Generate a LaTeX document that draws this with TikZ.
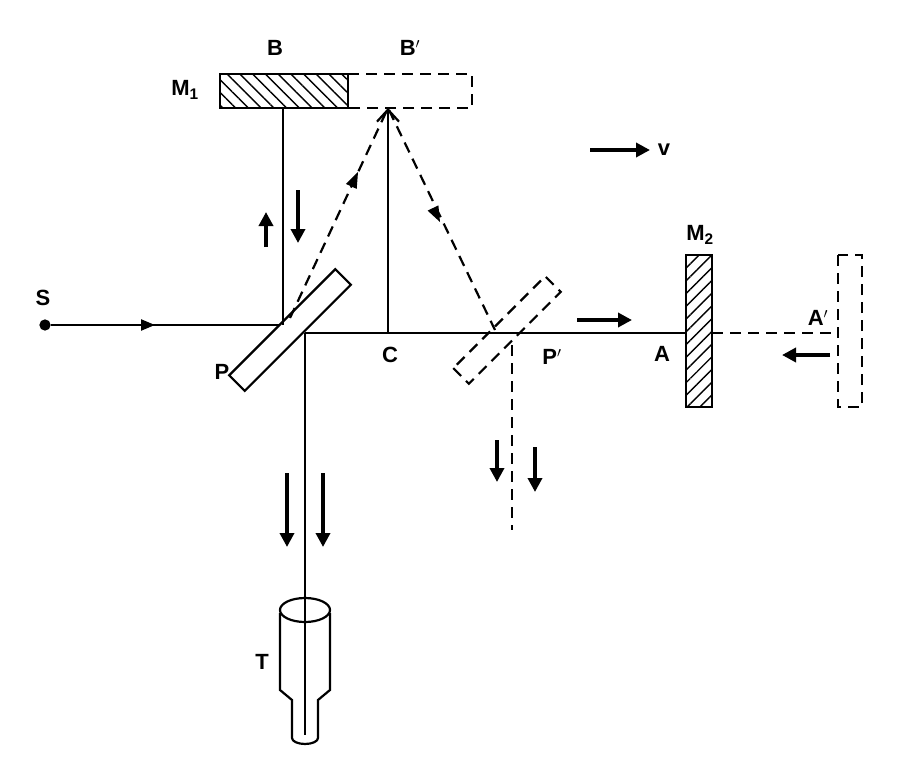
\documentclass[tikz,border=0pt]{standalone}
\usepackage{fontspec}
\setmainfont{Liberation Sans}
\usetikzlibrary{arrows.meta,patterns.meta}

\tikzset{
    ray/.style={line width=2.2pt},
    dray/.style={line width=2.2pt,dash pattern=on 11pt off 7pt},
    dirarrow/.style={line width=3.5pt,-{Triangle[length=14pt,width=14pt]}},
    hatch/.style={line width=2.2pt,pattern={Lines[angle=#1,distance=9pt,line width=1.4pt]}},
    lbl/.style={font=\bfseries\fontsize{22}{26}\selectfont}
}

\begin{document}
\begin{tikzpicture}[x=1pt,y=-1pt]
    \useasboundingbox (0,0) rectangle (904,776);
    % light source and plate
    \node[circle,fill,inner sep=4pt] (S) at (45,325) {};
    \node[lbl] at (43,298) {S};
    \coordinate (Pin) at (283,325);
    \coordinate (Pout) at (305,333);
    \draw[ray] (S) -- (Pin);
    \draw[ray,-{Triangle[length=14pt,width=11pt]}] (S) -- (155,325);
    \draw[ray,fill=white,rotate around={45:(290,330)}] (215,319) rectangle (365,341);
    \node[lbl] (Plbl) at (222,372) {P};
    % mirror M1
    \draw[hatch=-45] (220,74) rectangle (348,108);
    \draw[dray] (348,74) -- (472,74) -- (472,108) -- (348,108);
    \node[lbl] at (275,48) {B};
    \node[lbl] at (410,48) {B$'$};
    \node[lbl] at (185,90) {M\textsubscript{1}};
    \coordinate (B) at (283,108);
    \coordinate (Bp) at (388,108);
    \draw[ray] (B) -- (Pin);
    \draw[dirarrow] (266,247) -- (266,212);
    \draw[dirarrow] (298,190) -- (298,243);
    % moved beam path
    \coordinate (C) at (388,333);
    \coordinate (Pp) at (495,330);
    \draw[ray,-{Straight Barb[length=12pt,width=22pt,line width=2.2pt]}] (C) -- (Bp);
    \node[lbl] at (390,355) {C};
    \draw[dray] (290,318) -- (Bp) -- (Pp);
    \fill (358,172) -- (356.7,188.9) -- (345.9,183.9) -- cycle;
    \fill (440,222) -- (438.4,205.4) -- (427.6,210.6) -- cycle;
    \draw[dray,rotate around={45:(507,330)}] (442,319) rectangle (572,341);
    \node[lbl] at (552,357) {P$'$};
    \draw[dray] (512,345) -- (512,530);
    \draw[dirarrow] (497,440) -- (497,482);
    \draw[dirarrow] (535,447) -- (535,492);
    % mirror M2
    \coordinate (A) at (686,333);
    \draw[ray] (Pout) -- (A);
    \draw[dirarrow] (577,320) -- (632,320);
    \draw[dirarrow] (590,150) -- (650,150);
    \node[lbl] at (664,150) {v};
    \draw[hatch=45] (686,255) rectangle (712,407);
    \node[lbl] at (700,235) {M\textsubscript{2}};
    \node[lbl] at (662,354) {A};
    \draw[dray] (712,333) -- (838,333);
    \draw[dray] (838,255) rectangle (862,407);
    \node[lbl] at (818,318) {A$'$};
    \draw[dirarrow] (830,355) -- (782,355);
    % telescope
    \coordinate (T) at (305,735);
    \draw[ray] (Pout) -- (T);
    \draw[dirarrow] (287,473) -- (287,547);
    \draw[dirarrow] (323,473) -- (323,547);
    \draw[ray] (280,613) -- (280,690) -- (292,700) -- (292,738)
        arc[start angle=180,end angle=360,x radius=13,y radius=-6] -- (318,700) -- (330,690) -- (330,613);
    \draw[ray] (305,610) ellipse[x radius=25,y radius=12];
    \node[lbl] at (262,662) {T};
\end{tikzpicture}
\end{document}
